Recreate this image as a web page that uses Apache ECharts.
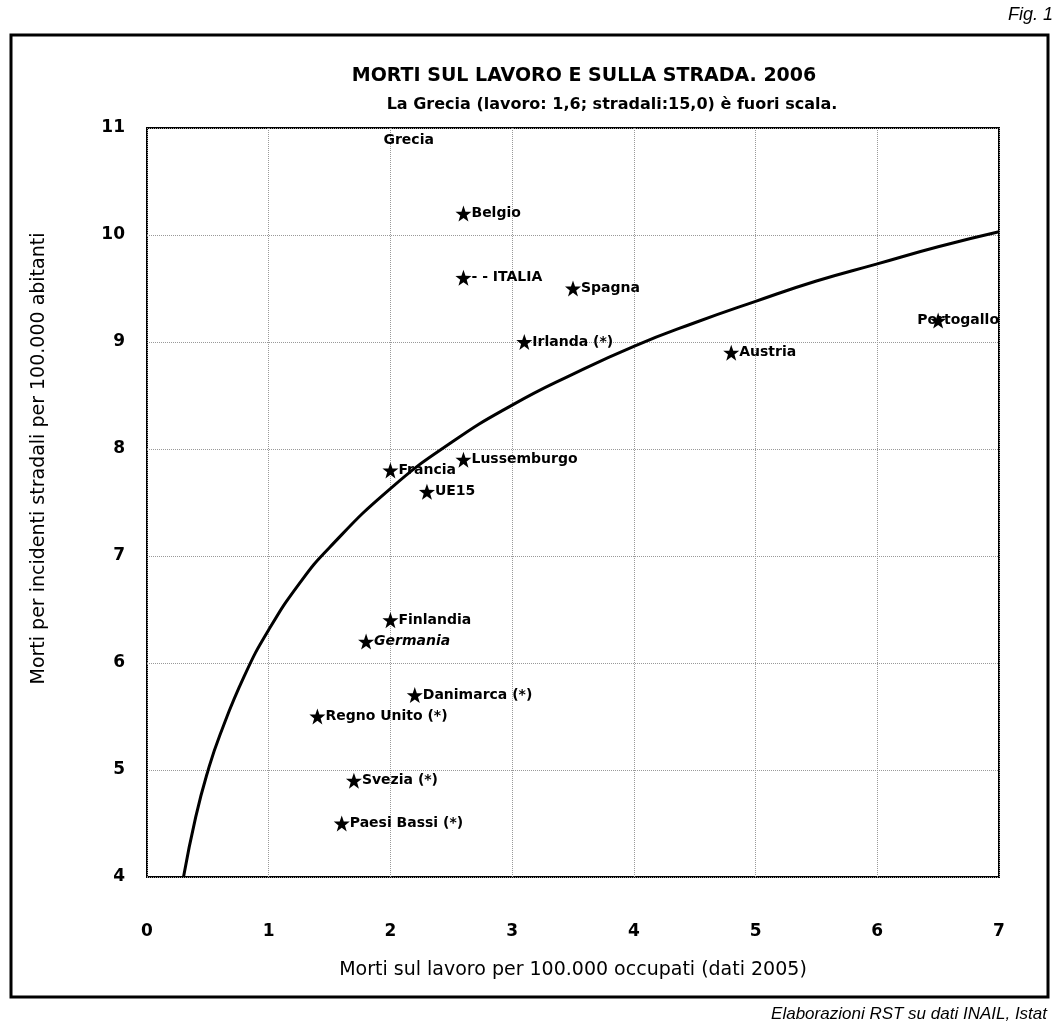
<!DOCTYPE html>
<html>
<head>
<meta charset="utf-8">
<script src="https://cdn.jsdelivr.net/npm/echarts@6/dist/echarts.min.js"></script>
<style>
  html, body { margin: 0; padding: 0; background: #fff; }
  #chart { width: 1056px; height: 1024px; }
</style>
</head>
<body>
<div id="chart"></div>
<script>
// dati
const paesi = ['Belgio', '- - ITALIA', 'Spagna', 'Irlanda (*)', 'Austria', 'Portogallo', 'Lussemburgo',
  'Francia', 'UE15', 'Finlandia', 'Germania', 'Danimarca (*)', 'Regno Unito (*)', 'Svezia (*)', 'Paesi Bassi (*)'];
const mortiLavoro = [2.6, 2.6, 3.5, 3.1, 4.8, 6.5, 2.6, 2.0, 2.3, 2.0, 1.8, 2.2, 1.4, 1.7, 1.6];
const mortiStrada = [10.2, 9.6, 9.5, 9.0, 8.9, 9.2, 7.9, 7.8, 7.6, 6.4, 6.2, 5.7, 5.5, 4.9, 4.5];

// curva di tendenza
const trendX = [0.3, 0.4, 0.5, 0.6, 0.8, 1, 1.25, 1.5, 2, 2.5, 3, 3.5, 4, 4.5, 5, 5.5, 6, 6.5, 7];
const trendY = [4.0, 4.56, 4.99, 5.33, 5.88, 6.31, 6.74, 7.08, 7.63, 8.06, 8.41, 8.70, 8.96, 9.18, 9.38, 9.57, 9.73, 9.89, 10.03];

// etichetta Grecia (fuori scala)
const grecia = { nome: 'Grecia', x: 2.15, y: 10.88 };

const xTicks = [0, 7, 1];
const yTicks = [4, 11, 1];

const font = 'DejaVu Sans';
const star = 'path://M12,0 L14.9,8.1 L23.4,8.2 L16.6,13.3 L19.1,21.5 L12,16.6 L4.9,21.5 L7.4,13.3 L0.6,8.2 L9.1,8.1 Z';

const chart = echarts.init(document.getElementById('chart'));

const puntiData = paesi.map((p, i) => {
  const d = { name: p, value: [mortiLavoro[i], mortiStrada[i]] };
  if (p === 'Portogallo') d.label = { position: 'inside', offset: [20, 0] };
  if (p === 'Germania') d.label = { fontStyle: 'italic' };
  return d;
});

const option = {
  animation: false,
  backgroundColor: '#fff',
  title: [
    {
      text: 'MORTI SUL LAVORO E SULLA STRADA. 2006',
      left: 579, top: 62, textAlign: 'center',
      textStyle: { fontFamily: font, fontSize: 19, fontWeight: 'bold', color: '#000' }
    },
    {
      text: 'La Grecia (lavoro: 1,6; stradali:15,0) è fuori scala.',
      left: 607, top: 92, textAlign: 'center',
      textStyle: { fontFamily: font, fontSize: 16, fontWeight: 'bold', color: '#000' }
    },
    {
      text: 'Fig. 1',
      right: -2, top: 1,
      textStyle: { fontFamily: 'Liberation Sans', fontSize: 18, fontStyle: 'italic', fontWeight: 'normal', color: '#000' }
    },
    {
      text: 'Elaborazioni RST su dati INAIL, Istat',
      right: 4, top: 1001,
      textStyle: { fontFamily: 'Liberation Sans', fontSize: 17, fontStyle: 'italic', fontWeight: 'normal', color: '#000' }
    }
  ],
  graphic: [
    {
      type: 'rect',
      shape: { x: 11, y: 35, width: 1037, height: 962 },
      style: { fill: 'none', stroke: '#000', lineWidth: 3 },
      z: 0
    }
  ],
  grid: {
    left: 147, right: 57, top: 128, bottom: 147,
    show: true, borderColor: '#000', borderWidth: 2, backgroundColor: 'transparent'
  },
  xAxis: {
    type: 'value',
    min: xTicks[0], max: xTicks[1], interval: xTicks[2],
    name: 'Morti sul lavoro per 100.000 occupati (dati 2005)',
    nameLocation: 'middle', nameGap: 84,
    nameTextStyle: { fontFamily: font, fontSize: 19, color: '#000' },
    axisLine: { show: false },
    axisTick: { show: false },
    axisLabel: { margin: 46, fontFamily: font, fontSize: 17, fontWeight: 'bold', color: '#000' },
    splitLine: { show: true, lineStyle: { color: '#999', type: 'dotted', width: 1 } }
  },
  yAxis: {
    type: 'value',
    min: yTicks[0], max: yTicks[1], interval: yTicks[2],
    name: 'Morti per incidenti stradali per 100.000 abitanti',
    nameLocation: 'middle', nameGap: 98,
    nameTextStyle: { fontFamily: font, fontSize: 19, color: '#000', padding: [0, 0, 0, 88] },
    axisLine: { show: false },
    axisTick: { show: false },
    axisLabel: { margin: 22, fontFamily: font, fontSize: 17, fontWeight: 'bold', color: '#000' },
    splitLine: { show: true, lineStyle: { color: '#999', type: 'dotted', width: 1 } }
  },
  series: [
    {
      name: 'tendenza',
      type: 'line',
      data: trendX.map((x, i) => [x, trendY[i]]),
      smooth: true,
      symbol: 'none',
      lineStyle: { color: '#000', width: 3 },
      z: 3
    },
    {
      name: 'paesi',
      type: 'scatter',
      data: puntiData,
      symbol: star,
      symbolSize: 16,
      itemStyle: { color: '#000', opacity: 1 },
      label: {
        show: true,
        position: 'right',
        distance: 0,
        formatter: '{b}',
        fontFamily: font,
        fontSize: 14,
        fontWeight: 'bold',
        color: '#000'
      },
      z: 4
    },
    {
      name: 'grecia',
      type: 'scatter',
      data: [{ name: grecia.nome, value: [grecia.x, grecia.y] }],
      symbol: 'circle',
      symbolSize: 1,
      itemStyle: { color: 'rgba(0,0,0,0)', opacity: 1 },
      label: {
        show: true, position: 'inside', formatter: '{b}',
        fontFamily: font, fontSize: 14, fontWeight: 'bold', color: '#000'
      },
      z: 4
    }
  ]
};

chart.setOption(option);
</script>
</body>
</html>
